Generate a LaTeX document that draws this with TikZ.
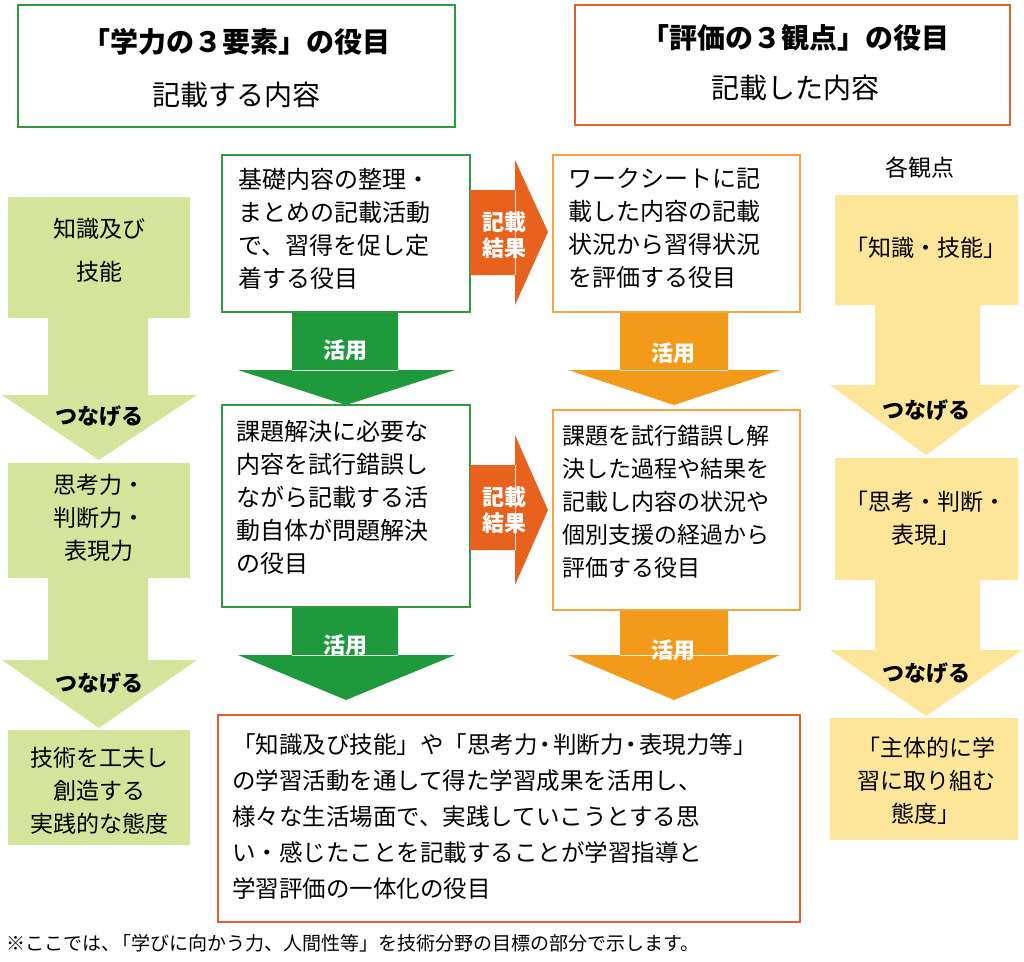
\documentclass[tikz,border=0pt]{standalone}
\usepackage{fontspec}
\setmainfont{Noto Sans CJK JP}
\definecolor{gA}{HTML}{1E9A3C}
\definecolor{gL}{HTML}{D5E49B}
\definecolor{oA}{HTML}{F39A1A}
\definecolor{rA}{HTML}{E8621E}
\definecolor{yL}{HTML}{FDE59A}
\definecolor{gB}{HTML}{2F9A3F}
\definecolor{oB}{HTML}{F2A540}
\definecolor{rB}{HTML}{E06030}
\begin{document}
\begin{tikzpicture}[x=1pt,y=-1pt,
  txt/.style={font=\fontsize{24}{33}\selectfont,align=left,anchor=north west,inner sep=0pt},
  ctxt/.style={font=\fontsize{23}{33}\selectfont,align=center,inner sep=0pt},
  lab/.style={font=\fontsize{22}{26}\selectfont\bfseries,align=center,inner sep=0pt},
  wlab/.style={lab,text=white}]
\useasboundingbox (0,0) rectangle (1024,961);
\fill[white] (0,0) rectangle (1024,961);
% title boxes
\draw[gB,line width=2.5pt] (18,5) rectangle (455,127);
\node[font=\fontsize{28}{30}\selectfont\bfseries] (t1) at (236,42) {「学力の３要素」の役目};
\node[font=\fontsize{28}{30}\selectfont] (t1b) at (236,95) {記載する内容};
\draw[rB,line width=2.5pt] (575,5) rectangle (1010,125);
\node[font=\fontsize{28}{30}\selectfont\bfseries] (t2) at (795,38) {「評価の３観点」の役目};
\node[font=\fontsize{28}{30}\selectfont] (t2b) at (795,88) {記載した内容};
% left column
\fill[gL] (8,197) rectangle (190,318) (48,318) rectangle (148,396);
\fill[gL] (2,395) -- (197,395) -- (99,460) -- cycle;
\fill[gL] (8,463) rectangle (190,578) (48,577) rectangle (148,661);
\fill[gL] (2,660) -- (197,660) -- (99,728) -- cycle;
\fill[gL] (8,730) rectangle (190,845);
\node[ctxt] (l1) at (99,250) {知識及び\\[10pt]技能};
\node[lab] (l1n) at (99,416) {つなげる};
\node[ctxt] (l2) at (99,518) {思考力・\\判断力・\\表現力};
\node[lab] (l2n) at (99,683) {つなげる};
\node[ctxt] (l3) at (99,791) {技術を工夫し\\創造する\\実践的な態度};
% right column
\node[font=\fontsize{23}{26}\selectfont] (r0) at (920,168) {各観点};
\fill[yL] (835,195) rectangle (1018,305) (875,304) rectangle (980,386);
\fill[yL] (830,385) -- (1022,385) -- (926,455) -- cycle;
\fill[yL] (835,458) rectangle (1018,580) (875,579) rectangle (980,651);
\fill[yL] (830,650) -- (1022,650) -- (926,716) -- cycle;
\fill[yL] (830,718) rectangle (1018,840);
\node[ctxt] (r1) at (926,248) {「知識・技能」};
\node[lab] (r1n) at (926,410) {つなげる};
\node[ctxt] (r2) at (926,518) {「思考・判断・\\表現」};
\node[lab] (r2n) at (926,673) {つなげる};
\node[ctxt] (r3) at (926,781) {「主体的に学\\習に取り組む\\態度」};
% middle green column
\draw[gB,line width=1.5pt] (222,155) rectangle (470,312);
\node[txt] (m1) at (238,168) {基礎内容の整理・\\まとめの記載活動\\で、習得を促し定\\着する役目};
\fill[gA] (292,313) rectangle (398,371) (238,370) -- (455,370) -- (346,405) -- cycle;
\node[wlab] (a1) at (345,350) {活用};
\draw[gB,line width=1.5pt] (222,405) rectangle (470,607);
\node[txt] (m2) at (236,420) {課題解決に必要な\\内容を試行錯誤し\\ながら記載する活\\動自体が問題解決\\の役目};
\fill[gA] (292,608) rectangle (398,656) (238,655) -- (455,655) -- (346,700) -- cycle;
\node[wlab] (a2) at (345,645) {活用};
% red arrows
\fill[rA] (470,190) rectangle (516,275) (515,160) -- (548,232) -- (515,305) -- cycle;
\node[wlab,font=\fontsize{22}{26}\selectfont\bfseries] (k1) at (504,235) {記載\\結果};
\fill[rA] (470,465) rectangle (516,550) (515,435) -- (548,510) -- (515,585) -- cycle;
\node[wlab,font=\fontsize{22}{26}\selectfont\bfseries] (k2) at (504,510) {記載\\結果};
% orange column
\draw[oB,line width=1.5pt] (553,155) rectangle (800,312);
\node[txt] (o1) at (568,168) {ワークシートに記\\載した内容の記載\\状況から習得状況\\を評価する役目};
\fill[oA] (620,313) rectangle (728,371) (568,370) -- (780,370) -- (674,405) -- cycle;
\node[wlab] (a3) at (673,353) {活用};
\draw[oB,line width=1.5pt] (553,410) rectangle (800,610);
\node[txt,font=\fontsize{23}{33}\selectfont] (o2) at (562,425) {課題を試行錯誤し解\\決した過程や結果を\\記載し内容の状況や\\個別支援の経過から\\評価する役目};
\fill[oA] (620,611) rectangle (728,656) (568,655) -- (780,655) -- (674,700) -- cycle;
\node[wlab] (a4) at (673,650) {活用};
% bottom box
\draw[rB,line width=2pt] (218,715) rectangle (800,922);
\node[txt,font=\fontsize{23.5}{36}\selectfont] (b) at (232,733) {「知識及び技能」や「思考力\kern-4pt・\kern-4pt判断力\kern-4pt・\kern-4pt表現力等」\\の学習活動を通して得た学習成果を活用し、\\様々な生活場面で、実践していこうとする思\\い・感じたことを記載することが学習指導と\\学習評価の一体化の役目};
\node[anchor=west,font=\fontsize{19}{20}\selectfont,inner sep=0pt] (fn) at (6,943) {※ここでは、\kern-8pt「学びに向かう力、人間性等」を技術分野の目標の部分で示します。};
\end{tikzpicture}
\end{document}
